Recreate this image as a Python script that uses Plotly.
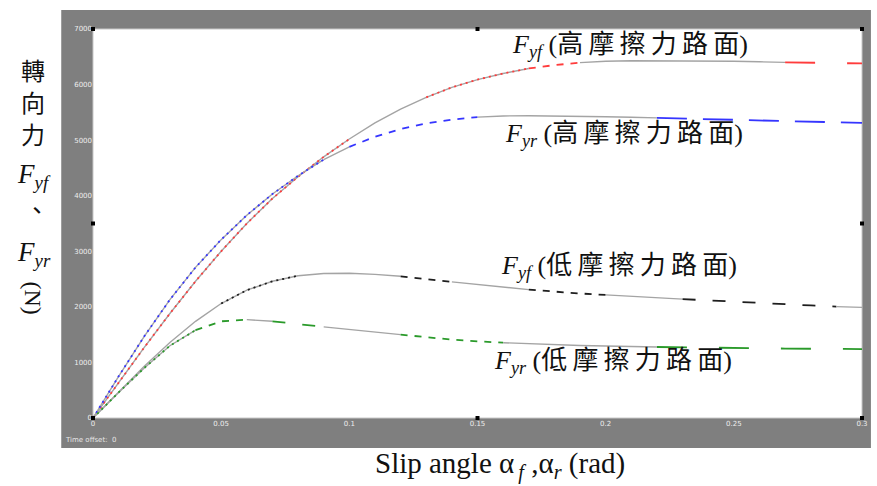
import plotly.graph_objects as go

# Slip angle grid (rad)
slip_angle = [0.00, 0.01, 0.02, 0.03, 0.04, 0.05, 0.06, 0.07, 0.08, 0.09, 0.10,
              0.11, 0.12, 0.13, 0.14, 0.15, 0.16, 0.17, 0.18, 0.19, 0.20,
              0.21, 0.22, 0.23, 0.24, 0.25, 0.26, 0.27, 0.28, 0.29, 0.30]

# Lateral tyre forces (N)
fyf_high = [0, 640, 1270, 1880, 2460, 3000, 3500, 3950, 4340, 4700, 5020,
            5310, 5560, 5770, 5950, 6090, 6200, 6290, 6350, 6395, 6420,
            6430, 6430, 6430, 6425, 6420, 6410, 6400, 6395, 6385, 6380]
fyr_high = [0, 750, 1470, 2130, 2710, 3210, 3650, 4030, 4360, 4650, 4880,
            5060, 5200, 5300, 5370, 5415, 5435, 5440, 5438, 5432, 5422,
            5412, 5400, 5390, 5378, 5366, 5354, 5342, 5330, 5320, 5310]
fyf_low = [0, 470, 930, 1360, 1740, 2060, 2300, 2460, 2560, 2600, 2605,
           2585, 2550, 2500, 2450, 2400, 2350, 2310, 2270, 2240, 2215,
           2190, 2165, 2140, 2115, 2090, 2065, 2045, 2025, 2005, 1990]
fyr_low = [0, 460, 900, 1300, 1580, 1740, 1770, 1740, 1690, 1640, 1590,
           1550, 1500, 1450, 1410, 1380, 1355, 1335, 1320, 1305, 1295,
           1285, 1278, 1270, 1264, 1258, 1254, 1250, 1246, 1243, 1240]

x_ticks = [0, 0.05, 0.1, 0.15, 0.2, 0.25, 0.3]
x_ticktext = ["0", "0.05", "0.1", "0.15", "0.2", "0.25", "0.3"]
y_ticks = [0, 1000, 2000, 3000, 4000, 5000, 6000, 7000]
y_ticktext = ["0", "1000", "2000", "3000", "4000", "5000", "6000", "7000"]

GRAY = "#a4a4a4"

# Scope-style trace rendering: each curve alternates between plain gray runs,
# coloured dots over gray, and coloured dashes (index ranges on the grid).
curves = [
    (fyf_high, "#ff3c3c", [(0, 10, "dot"), (10, 13, "gray"), (13, 17, "dot"),
                           (17, 19, "short"), (19, 27, "gray"), (27, 30, "long")]),
    (fyr_high, "#3535ff", [(0, 9, "dot"), (9, 10, "gray"), (10, 15, "short"),
                           (15, 22, "gray"), (22, 30, "long2")]),
    (fyf_low, "#1e1e1e", [(0, 5, "gray"), (5, 8, "dot"), (8, 12, "gray"),
                          (12, 14, "short"), (14, 17, "gray"), (17, 20, "short"),
                          (20, 23, "gray"), (23, 29, "mid"), (29, 30, "gray")]),
    (fyr_low, "#2a9a2a", [(0, 4, "dot"), (4, 6, "short"), (6, 7, "gray"),
                          (7, 9, "mid"), (9, 12, "gray"), (12, 16, "short"),
                          (16, 22, "gray"), (22, 30, "long")]),
]

dash_styles = {
    "dot": "2px,4px",
    "short": "7px,7px",
    "mid": "13px,17px",
    "long": "30px,32px",
    "long2": "30px,16px",
}

fig = go.Figure()
for values, color, segments in curves:
    for i0, i1, kind in segments:
        xs = slip_angle[i0:i1 + 1]
        ys = values[i0:i1 + 1]
        if kind in ("gray", "dot"):
            fig.add_trace(go.Scatter(x=xs, y=ys, mode="lines", showlegend=False,
                                     hoverinfo="skip",
                                     line=dict(color=GRAY, width=1.4)))
        if kind != "gray":
            fig.add_trace(go.Scatter(x=xs, y=ys, mode="lines", showlegend=False,
                                     hoverinfo="skip",
                                     line=dict(color=color, width=1.8,
                                               dash=dash_styles[kind])))

SERIF = "Liberation Serif, Noto Sans CJK TC, serif"

# Plot-area geometry in pixels
W, H = 877, 486
L, R, T, B = 93, 868, 29, 418


def px(x):
    return (x - L) / (R - L)


def py(y):
    return (B - y) / (B - T)


shapes = [
    # gray scope frame and white plotting area
    dict(type="rect", xref="paper", yref="paper", x0=px(61), x1=px(877),
         y0=py(448), y1=py(10), fillcolor="#7f7f7f", line=dict(width=0), layer="below"),
    dict(type="rect", xref="paper", yref="paper", x0=0, x1=1, y0=0, y1=1,
         fillcolor="#ffffff", line=dict(color="#c8c8c8", width=1), layer="below"),
]
# selection handles on the plot frame
for hx, hy in [(L, T), ((L + R) / 2, T), (R, T), (L, (T + B) / 2), (R, (T + B) / 2),
               (L, B), ((L + R) / 2, B), (R, B)]:
    shapes.append(dict(type="rect", xref="paper", yref="paper",
                       x0=px(hx - 2), x1=px(hx + 2), y0=py(hy + 2), y1=py(hy - 2),
                       fillcolor="#000000", line=dict(width=0), layer="above"))

annotations = []


def add_text(text, x, y, size=26, angle=0, xanchor="center"):
    annotations.append(dict(text=text, xref="paper", yref="paper", x=px(x), y=py(y),
                            showarrow=False, xanchor=xanchor, yanchor="middle",
                            textangle=angle,
                            font=dict(family=SERIF, size=size, color="#111111")))


TS = "\u2009"
HIGH = "(" + TS.join("高摩擦力路面") + ")"
LOW = "(" + TS.join("低摩擦力路面") + ")"

# curve labels
add_text("<i>F</i><sub><i>yf</i></sub> " + HIGH, 634, 46)
add_text("<i>F</i><sub><i>yr</i></sub> " + HIGH, 628, 135)
add_text("<i>F</i><sub><i>yf</i></sub> " + LOW, 623, 267)
add_text("<i>F</i><sub><i>yr</i></sub> " + LOW, 617, 362)

# vertical y-axis title
add_text("轉", 33, 72, size=24)
add_text("向", 33, 104, size=24)
add_text("力", 33, 136, size=24)
add_text("<i>F</i><sub><i>yf</i></sub>", 34, 176, size=27)
add_text("、", 37, 211, size=24)
add_text("<i>F</i><sub><i>yr</i></sub>", 34, 254, size=27)
add_text("(N)", 33, 298, size=24, angle=90)

# x-axis title
add_text("Slip angle α<sub>\u2009<i>f</i></sub> ,α<sub><i>r</i></sub> (rad)", 503, 466, size=29)

# scope footer
annotations.append(dict(text="Time offset:  0", xref="paper", yref="paper",
                        x=px(63), y=py(440), xanchor="left", yanchor="middle",
                        showarrow=False,
                        font=dict(family="DejaVu Sans", size=7, color="#e6e6e6")))

fig.update_layout(
    width=W, height=H,
    margin=dict(l=L, r=W - R, t=T, b=H - B, pad=0),
    paper_bgcolor="#ffffff",
    plot_bgcolor="#ffffff",
    shapes=shapes,
    annotations=annotations,
    xaxis=dict(range=[0, 0.3], tickvals=x_ticks, ticktext=x_ticktext,
               showgrid=False, zeroline=False, showline=False, ticks="",
               tickfont=dict(family="DejaVu Sans", size=7, color="#eeeeee"),
               fixedrange=True),
    yaxis=dict(range=[0, 7000], tickvals=y_ticks, ticktext=y_ticktext,
               showgrid=False, zeroline=False, showline=False, ticks="",
               tickfont=dict(family="DejaVu Sans", size=7, color="#eeeeee"),
               fixedrange=True),
)

fig.write_html("out.html")
